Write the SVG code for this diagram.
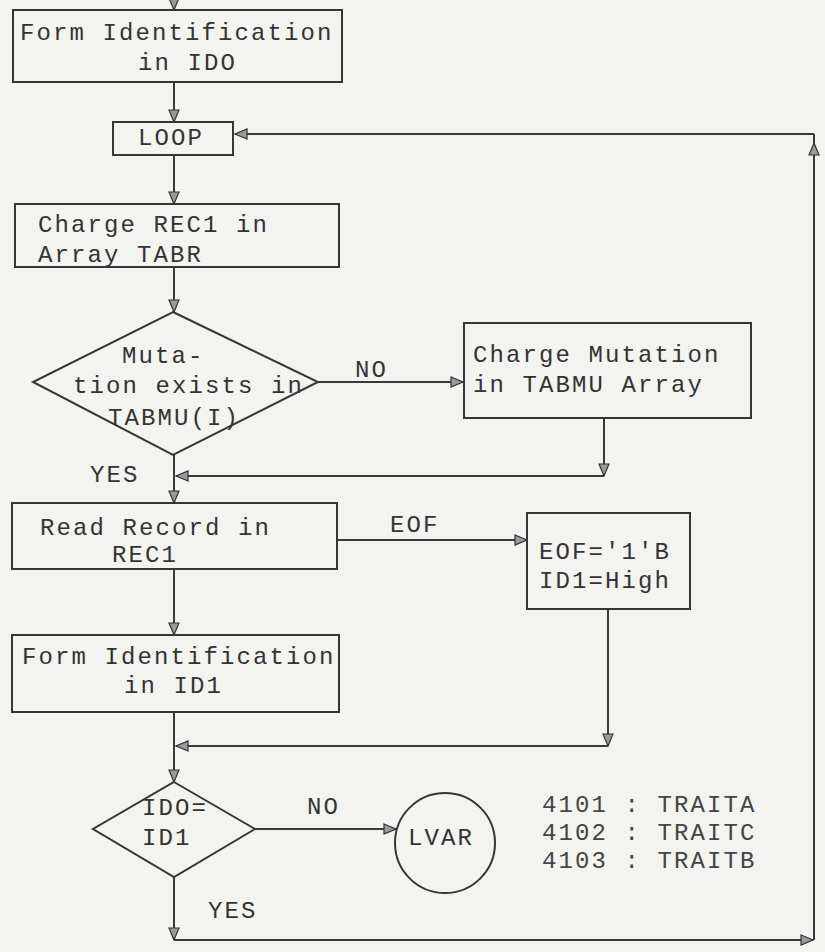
<svg xmlns="http://www.w3.org/2000/svg" width="825" height="952" viewBox="0 0 825 952">
<style>
.bx{fill:none;stroke:#363636;stroke-width:2}
.ln{fill:none;stroke:#3a3a3a;stroke-width:2;marker-end:url(#ah)}
.pl{fill:none;stroke:#3a3a3a;stroke-width:2}
text{font-family:"Liberation Mono","DejaVu Sans Mono",monospace;font-size:24px;letter-spacing:2.1px;fill:#333}
.lg{fill:#444}
</style>
<defs>
<marker id="ah" viewBox="0 0 14 12" refX="13" refY="6" markerWidth="14" markerHeight="12" markerUnits="userSpaceOnUse" orient="auto">
<path d="M1,1 L13,6 L1,11 Z" fill="#9a9a9a" stroke="#333" stroke-width="1.2"/>
</marker>
</defs>
<rect width="825" height="952" fill="#f3f3f0"/>
<g id="connectors">
<path class="ln" d="M174,0 V10"/>
<path class="ln" d="M174,82 V122"/>
<path class="ln" d="M174,155 V204"/>
<path class="ln" d="M174,267 V312"/>
<path class="ln" d="M318,382 H463"/>
<path class="ln" d="M604,418 V476"/>
<path class="ln" d="M604,476 H176"/>
<path class="ln" d="M174,455 V503"/>
<path class="ln" d="M337,540 H527"/>
<path class="ln" d="M608,609 V746"/>
<path class="ln" d="M608,746 H176"/>
<path class="ln" d="M174,569 V635"/>
<path class="ln" d="M174,712 V782"/>
<path class="ln" d="M255,829 H396"/>
<path class="ln" d="M174,877 V940"/>
<path class="ln" d="M174,940 H813"/>
<path class="ln" d="M814,940 V143"/>
<path class="pl" d="M814,143 V134"/>
<path class="ln" d="M814,134 H235"/>
<text x="355" y="377">NO</text>
<text x="90" y="482">YES</text>
<text x="390" y="532">EOF</text>
<text x="307" y="814">NO</text>
<text x="208" y="918">YES</text>
</g>
<g id="form-id0">
<rect class="bx" x="13" y="10" width="329" height="72"/>
<text x="20" y="40">Form Identification</text>
<text x="138" y="70">in IDO</text>
</g>
<g id="loop">
<rect class="bx" x="113" y="122" width="120" height="33"/>
<text x="138" y="145">LOOP</text>
</g>
<g id="charge-rec1">
<rect class="bx" x="15" y="204" width="324" height="63"/>
<text x="38" y="232">Charge REC1 in</text>
<text x="38" y="262">Array TABR</text>
</g>
<g id="mutation-exists">
<path class="bx" d="M173,312 L318,382 L173,455 L33,382 Z"/>
<text x="122" y="363">Muta-</text>
<text x="73" y="393">tion exists in</text>
<text x="108" y="425">TABMU(I)</text>
</g>
<g id="charge-mutation">
<rect class="bx" x="464" y="323" width="287" height="95"/>
<text x="473" y="362">Charge Mutation</text>
<text x="473" y="392">in TABMU Array</text>
</g>
<g id="read-record">
<rect class="bx" x="12" y="503" width="325" height="66"/>
<text x="40" y="535">Read Record in</text>
<text x="112" y="562">REC1</text>
</g>
<g id="eof-set">
<rect class="bx" x="527" y="513" width="163" height="96"/>
<text x="539" y="559">EOF='1'B</text>
<text x="539" y="588">ID1=High</text>
</g>
<g id="form-id1">
<rect class="bx" x="12" y="635" width="327" height="77"/>
<text x="22" y="664">Form Identification</text>
<text x="124" y="693">in ID1</text>
</g>
<g id="compare">
<path class="bx" d="M174,782 L255,829 L174,877 L93,829 Z"/>
<text x="142" y="815">IDO=</text>
<text x="142" y="845">ID1</text>
</g>
<g id="lvar">
<circle class="bx" cx="445" cy="843" r="50"/>
<text x="408" y="845">LVAR</text>
</g>
<g id="legend">
<text class="lg" x="542" y="812">4101 : TRAITA</text>
<text class="lg" x="542" y="840">4102 : TRAITC</text>
<text class="lg" x="542" y="868">4103 : TRAITB</text>
</g>
</svg>
